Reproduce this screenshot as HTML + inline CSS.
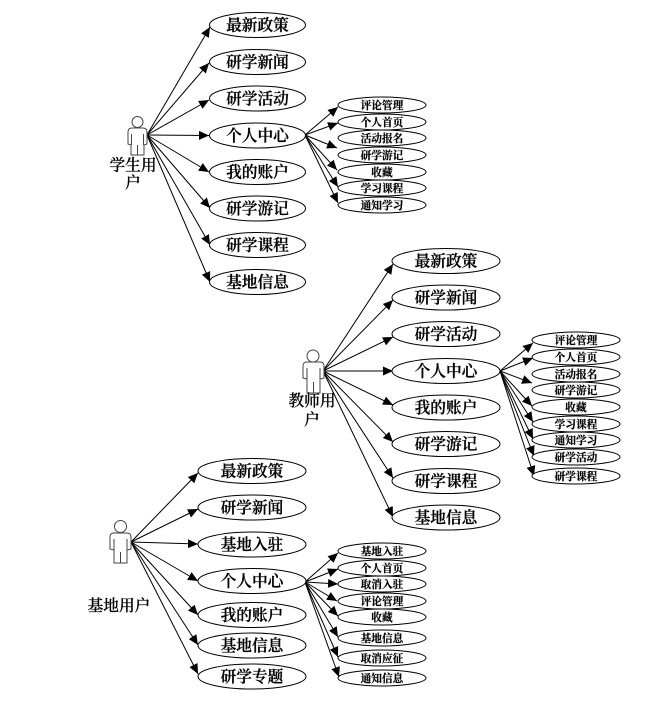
<!DOCTYPE html>
<html><head><meta charset="utf-8"><style>
html,body{margin:0;padding:0;background:#fff}
svg{display:block}
text{font-family:"Liberation Serif","Noto Serif CJK SC",serif;fill:#000;text-anchor:middle;stroke:#000}
.m{font-size:15.7px;font-weight:600;stroke-width:.25}
.s{font-size:10.7px;font-weight:700;stroke-width:.2}
.a{font-size:15.7px;font-weight:500;stroke-width:.25}
line{stroke:#000;stroke-width:1;marker-end:url(#h)}
ellipse{fill:#fff;stroke:#000;stroke-width:1}
.b{fill:#fff;stroke:#444;stroke-width:1}
</style></head><body>
<svg width="645" height="705" viewBox="0 0 645 705" xmlns="http://www.w3.org/2000/svg">
<defs><marker id="h" markerUnits="userSpaceOnUse" markerWidth="11" markerHeight="11" refX="10" refY="5" orient="auto"><path d="M0 0.5L10 5L0 9.500z" fill="#000"/></marker></defs>

<!-- Student -->
<g>
<line x1="147" y1="135" x2="210" y2="27"/><line x1="147" y1="135" x2="209" y2="63"/><line x1="147" y1="135" x2="209" y2="100"/><line x1="147" y1="135" x2="209" y2="135.5"/><line x1="147" y1="135" x2="209" y2="172"/><line x1="147" y1="135" x2="210" y2="208"/><line x1="147" y1="135" x2="210" y2="245"/><line x1="147" y1="135" x2="210" y2="282"/>
<line x1="305" y1="135" x2="338" y2="107"/><line x1="305" y1="135" x2="338" y2="123"/><line x1="305" y1="135" x2="337" y2="148"/><line x1="305" y1="135" x2="337" y2="170"/><line x1="305" y1="135" x2="338" y2="187"/><line x1="305" y1="135" x2="338" y2="203"/>
<g transform="translate(128,128)"><circle class="b" cx="9.5" cy="-6" r="5.5"/><path class="b" d="M0 16V4Q0 0 4 0H15Q19 0 19 4V16L16 17V27H3V17Z"/><path d="M3.500 6V17M15.500 6V17M9.500 17V27" stroke="#444" fill="none"/></g>
<text class="a" x="133" y="170.500">学生用</text><text class="a" x="133" y="188">户</text>
<ellipse cx="257.500" cy="25" rx="48" ry="12.500"/><text class="m" x="257.500" y="30.500">最新政策</text>
<ellipse cx="257.500" cy="62" rx="48" ry="12.500"/><text class="m" x="257.500" y="67.500">研学新闻</text>
<ellipse cx="257.500" cy="98.500" rx="48" ry="12.500"/><text class="m" x="257.500" y="104">研学活动</text>
<ellipse cx="257.500" cy="135.500" rx="48" ry="12.500"/><text class="m" x="257.500" y="141">个人中心</text>
<ellipse cx="257.500" cy="172" rx="48" ry="12.500"/><text class="m" x="257.500" y="177.500">我的账户</text>
<ellipse cx="257.500" cy="208.500" rx="48" ry="12.500"/><text class="m" x="257.500" y="214">研学游记</text>
<ellipse cx="257.500" cy="245" rx="48" ry="12.500"/><text class="m" x="257.500" y="250.500">研学课程</text>
<ellipse cx="257.500" cy="282" rx="48" ry="12.500"/><text class="m" x="257.500" y="287.500">基地信息</text>
<ellipse cx="382" cy="105" rx="44" ry="8"/><text class="s" x="382" y="109">评论管理</text>
<ellipse cx="382" cy="122" rx="44" ry="8"/><text class="s" x="382" y="126">个人首页</text>
<ellipse cx="382" cy="138" rx="44" ry="8"/><text class="s" x="382" y="142">活动报名</text>
<ellipse cx="382" cy="155" rx="44" ry="8"/><text class="s" x="382" y="159">研学游记</text>
<ellipse cx="382" cy="172" rx="44" ry="8"/><text class="s" x="382" y="176">收藏</text>
<ellipse cx="382" cy="188" rx="44" ry="8"/><text class="s" x="382" y="192">学习课程</text>
<ellipse cx="382" cy="205" rx="44" ry="8"/><text class="s" x="382" y="209">通知学习</text>
</g>

<!-- Teacher -->
<g>
<line x1="323" y1="371" x2="393" y2="264"/><line x1="323" y1="371" x2="393" y2="300"/><line x1="323" y1="371" x2="393" y2="337"/><line x1="323" y1="371" x2="393" y2="371"/><line x1="323" y1="371" x2="393" y2="405"/><line x1="323" y1="371" x2="393" y2="442"/><line x1="323" y1="371" x2="393" y2="478"/><line x1="323" y1="371" x2="393" y2="517"/>
<line x1="500" y1="371" x2="533" y2="343"/><line x1="500" y1="371" x2="533" y2="358"/><line x1="500" y1="371" x2="532" y2="383"/><line x1="500" y1="371" x2="532" y2="406"/><line x1="500" y1="371" x2="533" y2="422"/><line x1="500" y1="371" x2="533" y2="439"/><line x1="500" y1="371" x2="534" y2="456"/><line x1="500" y1="371" x2="534" y2="476"/>
<g transform="translate(303,362)"><circle class="b" cx="10" cy="-6" r="6"/><path class="b" d="M0 16V4Q0 0 4 0H17Q21 0 21 4V16L17 17V31H4V17Z"/><path d="M4 6V17M17 6V17M10.500 20V31" stroke="#444" fill="none"/></g>
<text class="a" x="312" y="406">教师用</text><text class="a" x="312" y="425">户</text>
<ellipse cx="446" cy="261" rx="54" ry="12.500"/><text class="m" x="446" y="266.500">最新政策</text>
<ellipse cx="446" cy="297.500" rx="54" ry="12.500"/><text class="m" x="446" y="303">研学新闻</text>
<ellipse cx="446" cy="334" rx="54" ry="12.500"/><text class="m" x="446" y="339.500">研学活动</text>
<ellipse cx="446" cy="371" rx="54" ry="12.500"/><text class="m" x="446" y="376.500">个人中心</text>
<ellipse cx="446" cy="407.500" rx="54" ry="12.500"/><text class="m" x="446" y="413">我的账户</text>
<ellipse cx="446" cy="444" rx="54" ry="12.500"/><text class="m" x="446" y="449.500">研学游记</text>
<ellipse cx="446" cy="481" rx="54" ry="12.500"/><text class="m" x="446" y="486.500">研学课程</text>
<ellipse cx="446" cy="517.500" rx="54" ry="12.500"/><text class="m" x="446" y="523">基地信息</text>
<ellipse cx="576" cy="340" rx="44" ry="8"/><text class="s" x="576" y="344">评论管理</text>
<ellipse cx="576" cy="357" rx="44" ry="8"/><text class="s" x="576" y="361">个人首页</text>
<ellipse cx="576" cy="374" rx="44" ry="8"/><text class="s" x="576" y="378">活动报名</text>
<ellipse cx="576" cy="390" rx="44" ry="8"/><text class="s" x="576" y="394">研学游记</text>
<ellipse cx="576" cy="407" rx="44" ry="8"/><text class="s" x="576" y="411">收藏</text>
<ellipse cx="576" cy="424" rx="44" ry="8"/><text class="s" x="576" y="428">学习课程</text>
<ellipse cx="576" cy="440" rx="44" ry="8"/><text class="s" x="576" y="444">通知学习</text>
<ellipse cx="576" cy="457" rx="44" ry="8"/><text class="s" x="576" y="461">研学活动</text>
<ellipse cx="576" cy="476" rx="44" ry="8"/><text class="s" x="576" y="480">研学课程</text>
</g>

<!-- Base -->
<g>
<line x1="131" y1="542" x2="198" y2="473"/><line x1="131" y1="542" x2="198" y2="509"/><line x1="131" y1="542" x2="198" y2="544"/><line x1="131" y1="542" x2="198" y2="581"/><line x1="131" y1="542" x2="198" y2="615"/><line x1="131" y1="542" x2="198" y2="645"/><line x1="131" y1="542" x2="198" y2="674"/>
<line x1="305" y1="582" x2="338" y2="553"/><line x1="305" y1="582" x2="338" y2="569"/><line x1="305" y1="582" x2="338" y2="584"/><line x1="305" y1="582" x2="337" y2="601"/><line x1="305" y1="582" x2="338" y2="616"/><line x1="305" y1="582" x2="338" y2="637"/><line x1="305" y1="582" x2="338" y2="657"/><line x1="305" y1="582" x2="339" y2="677"/>
<g transform="translate(110,533)"><circle class="b" cx="10.500" cy="-6.500" r="6"/><path class="b" d="M0 16V4Q0 0 4 0H17Q21 0 21 4V16L17 17V30H4V17Z"/><path d="M4 6V17M17 6V17M10.500 19V30" stroke="#444" fill="none"/></g>
<text class="a" x="119" y="611">基地用户</text>
<ellipse cx="252" cy="471" rx="54" ry="12.500"/><text class="m" x="252" y="476.500">最新政策</text>
<ellipse cx="252" cy="507.500" rx="54" ry="12.500"/><text class="m" x="252" y="513">研学新闻</text>
<ellipse cx="252" cy="544.500" rx="54" ry="12.500"/><text class="m" x="252" y="550">基地入驻</text>
<ellipse cx="252" cy="581" rx="54" ry="12.500"/><text class="m" x="252" y="586.500">个人中心</text>
<ellipse cx="252" cy="615" rx="54" ry="12.500"/><text class="m" x="252" y="620.500">我的账户</text>
<ellipse cx="252" cy="645.500" rx="54" ry="12.500"/><text class="m" x="252" y="651">基地信息</text>
<ellipse cx="252" cy="676.500" rx="54" ry="12.500"/><text class="m" x="252" y="682">研学专题</text>
<ellipse cx="382" cy="551" rx="44" ry="8"/><text class="s" x="382" y="555">基地入驻</text>
<ellipse cx="382" cy="568" rx="44" ry="8"/><text class="s" x="382" y="572">个人首页</text>
<ellipse cx="382" cy="584" rx="44" ry="8"/><text class="s" x="382" y="588">取消入驻</text>
<ellipse cx="382" cy="601" rx="44" ry="8"/><text class="s" x="382" y="605">评论管理</text>
<ellipse cx="382" cy="617" rx="44" ry="8"/><text class="s" x="382" y="621">收藏</text>
<ellipse cx="382" cy="638" rx="44" ry="8"/><text class="s" x="382" y="642">基地信息</text>
<ellipse cx="382" cy="658" rx="44" ry="8"/><text class="s" x="382" y="662">取消应征</text>
<ellipse cx="382" cy="678" rx="44" ry="8"/><text class="s" x="382" y="682">通知信息</text>
</g>
</svg>
</body></html>
